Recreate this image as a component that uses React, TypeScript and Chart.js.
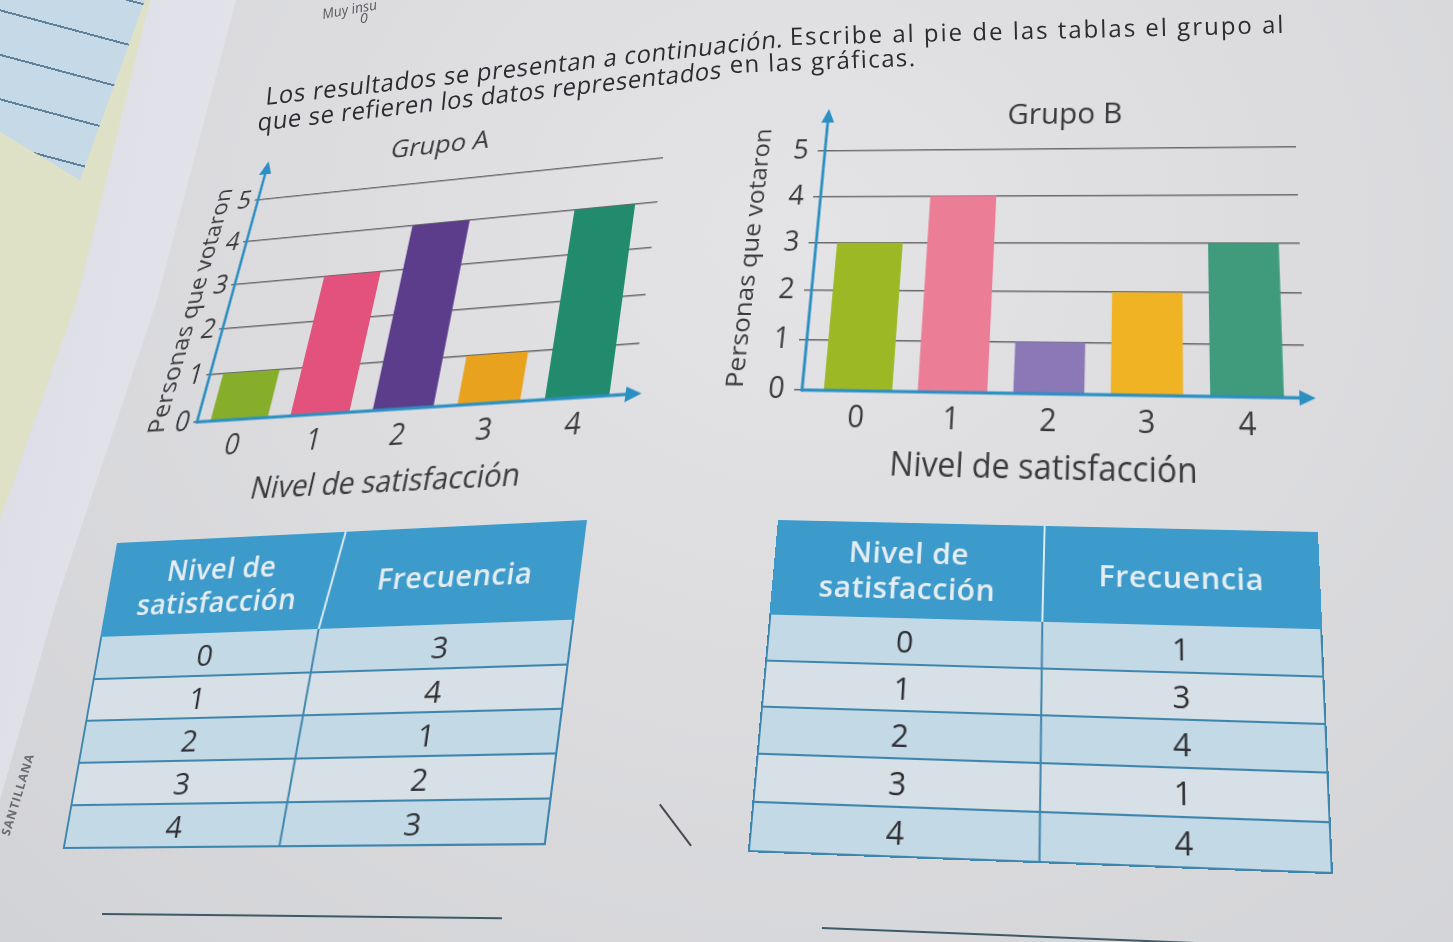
import React, { useEffect, useRef } from "react";
import { Chart, registerables } from "chart.js";

Chart.register(...registerables);

// ---------- data ----------
const satisfactionLevels = [0, 1, 2, 3, 4];
const yTickValues = [0, 1, 2, 3, 4, 5];
const groupAVotes = [1, 3, 4, 1, 4];
const groupBVotes = [3, 4, 1, 2, 3];
const groupAColors = ["#86ae2b", "#e2527c", "#5b3d8c", "#e8a21d", "#228b6d"];
const groupBColors = ["#9cb925", "#ec7d96", "#8b79b7", "#efb323", "#409b7c"];
const tableOneFrequencies = [3, 4, 1, 2, 3];
const tableTwoFrequencies = [1, 3, 4, 1, 4];
const instructionParts = [
  "Los resultados se presentan a continuación.",
  "Escribe al pie de las tablas el grupo al",
  "que se refieren los datos representados",
  "en las gráficas.",
];
const yAxisTitle = "Personas que votaron";
const xAxisTitle = "Nivel de satisfacción";

const FONT = "'Open Sans', 'Noto Sans', sans-serif";
const AXIS_BLUE = "#2b8fc2";
const TEXT = "#3a3a3c";

// ---------- projective transform helper ----------
function solveLinear(A: number[][], b: number[]): number[] {
  const n = b.length;
  const M = A.map((row, i) => [...row, b[i]]);
  for (let c = 0; c < n; c++) {
    let p = c;
    for (let r = c + 1; r < n; r++) if (Math.abs(M[r][c]) > Math.abs(M[p][c])) p = r;
    [M[c], M[p]] = [M[p], M[c]];
    for (let r = 0; r < n; r++) {
      if (r === c) continue;
      const f = M[r][c] / M[c][c];
      for (let k = c; k <= n; k++) M[r][k] -= f * M[c][k];
    }
  }
  return M.map((row, i) => row[n] / row[i]);
}

function homography(src: number[][], dst: number[][]): string {
  const A: number[][] = [];
  const B: number[] = [];
  for (let i = 0; i < 4; i++) {
    const [x, y] = src[i];
    const [X, Y] = dst[i];
    A.push([x, y, 1, 0, 0, 0, -x * X, -y * X]);
    B.push(X);
    A.push([0, 0, 0, x, y, 1, -x * Y, -y * Y]);
    B.push(Y);
  }
  const [a, b, c, d, e, f, g, h] = solveLinear(A, B);
  return `matrix3d(${a},${d},0,${g},${b},${e},0,${h},0,0,1,0,${c},${f},0,1)`;
}

// ---------- plugin: axis arrows + titles ----------
const decorPlugin = {
  id: "decor",
  afterDatasetsDraw(chart: any, _args: any, o: any) {
    const { ctx, chartArea, scales } = chart;
    const x0 = chartArea.left;
    const y0 = scales.y.getPixelForValue(0);
    ctx.save();
    ctx.strokeStyle = AXIS_BLUE;
    ctx.fillStyle = AXIS_BLUE;
    ctx.lineWidth = o.axisWidth;
    ctx.lineCap = "round";
    const xe = x0 + o.xArrow;
    ctx.beginPath();
    ctx.moveTo(x0, y0);
    ctx.lineTo(xe - 10, y0);
    ctx.stroke();
    ctx.beginPath();
    ctx.moveTo(xe, y0);
    ctx.lineTo(xe - 15, y0 - 7);
    ctx.lineTo(xe - 15, y0 + 7);
    ctx.closePath();
    ctx.fill();
    const ye = y0 - o.yArrow;
    ctx.beginPath();
    ctx.moveTo(x0, y0);
    ctx.lineTo(x0, ye + 10);
    ctx.stroke();
    ctx.beginPath();
    ctx.moveTo(x0, ye);
    ctx.lineTo(x0 - 7, ye + 15);
    ctx.lineTo(x0 + 7, ye + 15);
    ctx.closePath();
    ctx.fill();
    ctx.fillStyle = TEXT;
    ctx.textAlign = "center";
    ctx.textBaseline = "middle";
    ctx.font = `${o.titleSize}px ${FONT}`;
    ctx.fillText(o.title, x0 + o.titleDx, y0 + o.titleDy);
    ctx.font = `${o.xTitleSize}px ${FONT}`;
    ctx.fillText(o.xTitle, x0 + o.xTitleDx, y0 + o.xTitleDy);
    ctx.translate(x0 + o.yTitleDx, y0 + o.yTitleDy);
    ctx.rotate(-Math.PI / 2);
    ctx.font = `${o.yTitleSize}px ${FONT}`;
    ctx.fillText(o.yTitle, 0, 0);
    ctx.restore();
  },
};

type Geo = {
  width: number;
  height: number;
  yAxisW: number;
  xAxisH: number;
  padTop: number;
  padRight: number;
  corners: number[][]; // page positions of plot-area TL, TR, BR, BL
  xMin: number;
  xMax: number;
  barPct: number;
  tickSize: number;
  yTickLen: number;
  yTickPad: number;
  xTickPad: number;
  gridColor: string;
  decor: any;
};

function BarChart({ votes, colors, title, geo }: { votes: number[]; colors: string[]; title: string; geo: Geo }) {
  const ref = useRef<HTMLCanvasElement>(null);
  useEffect(() => {
    const g = geo;
    const chart = new Chart(ref.current as HTMLCanvasElement, {
      type: "bar",
      data: {
        datasets: [
          {
            data: satisfactionLevels.map((l, i) => ({ x: l, y: votes[i] })),
            backgroundColor: colors,
            borderWidth: 0,
            barPercentage: g.barPct,
            categoryPercentage: 1,
          } as any,
        ],
      },
      options: {
        responsive: false,
        animation: false,
        devicePixelRatio: 1,
        layout: { padding: { top: g.padTop, right: g.padRight, left: 0, bottom: 0 } },
        plugins: {
          legend: { display: false },
          tooltip: { enabled: false },
          title: { display: false },
          decor: { ...g.decor, title, xTitle: xAxisTitle, yTitle: yAxisTitle },
        } as any,
        scales: {
          x: {
            type: "linear",
            offset: false,
            min: g.xMin,
            max: g.xMax,
            afterBuildTicks: (s: any) => {
              s.ticks = satisfactionLevels.map((v) => ({ value: v }));
            },
            afterFit: (s: any) => {
              s.height = g.xAxisH;
            },
            ticks: {
              font: { family: FONT, size: g.tickSize },
              color: TEXT,
              padding: g.xTickPad,
              autoSkip: false,
              maxRotation: 0,
              callback: (v: any) => String(v),
            },
            grid: { display: false, drawTicks: false },
            border: { display: false },
          },
          y: {
            type: "linear",
            min: 0,
            max: 5,
            afterBuildTicks: (s: any) => {
              s.ticks = yTickValues.map((v) => ({ value: v }));
            },
            afterFit: (s: any) => {
              s.width = g.yAxisW;
            },
            ticks: {
              font: { family: FONT, size: g.tickSize },
              color: TEXT,
              padding: g.yTickPad,
              callback: (v: any) => String(v),
            },
            grid: { color: g.gridColor, lineWidth: 1.5, tickLength: g.yTickLen, drawTicks: true },
            border: { display: false },
          },
        } as any,
      },
      plugins: [decorPlugin as any],
    });
    return () => chart.destroy();
  }, []);
  const L = geo.yAxisW;
  const R = geo.width - geo.padRight;
  const T = geo.padTop;
  const Bm = geo.height - geo.xAxisH;
  const m = homography(
    [
      [L, T],
      [R, T],
      [R, Bm],
      [L, Bm],
    ],
    geo.corners
  );
  return (
    <div
      style={{
        position: "absolute",
        left: 0,
        top: 0,
        width: geo.width,
        height: geo.height,
        transform: m,
        transformOrigin: "0 0",
      }}
    >
      <canvas ref={ref} width={geo.width} height={geo.height} style={{ display: "block" }} />
    </div>
  );
}

const geoA: Geo = {
  width: 556,
  height: 382,
  yAxisW: 80,
  xAxisH: 90,
  padTop: 62,
  padRight: 40,
  corners: [
    [258, 200],
    [663, 158],
    [633, 394],
    [197, 422],
  ],
  xMin: -0.53,
  xMax: 4.62,
  barPct: 0.72,
  tickSize: 27,
  yTickLen: 4,
  yTickPad: 4,
  xTickPad: 9,
  gridColor: "#6a6a6e",
  decor: {
    axisWidth: 3,
    xArrow: 444,
    yArrow: 274,
    titleDx: 195,
    titleDy: -270,
    titleSize: 28,
    xTitleDx: 209,
    xTitleDy: 67,
    xTitleSize: 28,
    yTitleDx: -41,
    yTitleDy: -119,
    yTitleSize: 25,
  },
};

const geoB: Geo = {
  width: 620,
  height: 392,
  yAxisW: 92,
  xAxisH: 92,
  padTop: 58,
  padRight: 40,
  corners: [
    [825, 151],
    [1296, 147],
    [1306, 398],
    [802, 390],
  ],
  xMin: -0.6,
  xMax: 4.58,
  barPct: 0.73,
  tickSize: 29,
  yTickLen: 8,
  yTickPad: 10,
  xTickPad: 8,
  gridColor: "#6a6a6e",
  decor: {
    axisWidth: 3,
    xArrow: 497,
    yArrow: 288,
    titleDx: 253,
    titleDy: -278,
    titleSize: 31,
    xTitleDx: 240,
    xTitleDy: 68,
    xTitleSize: 31,
    yTitleDx: -68,
    yTitleDy: -134,
    yTitleSize: 26,
  },
};

// ---------- tables ----------
function FreqTable(props: {
  width: number;
  headerH: number;
  rowH: number;
  splitTop: number;
  splitMid: number;
  splitBottom: number;
  corners: number[][];
  headSize: number;
  valSize: number;
  freqs: number[];
}) {
  const { width, headerH, rowH, splitTop, splitMid, splitBottom, corners, headSize, valSize, freqs } = props;
  const height = headerH + rowH * 5;
  const line = "2px solid #3f86ad";
  const hx = ((splitTop + splitMid) / 2) * width;
  const m = homography(
    [
      [0, 0],
      [width, 0],
      [width, height],
      [0, height],
    ],
    corners
  );
  return (
    <div
      style={{
        position: "absolute",
        left: 0,
        top: 0,
        width,
        height,
        transform: m,
        transformOrigin: "0 0",
        fontFamily: FONT,
        boxSizing: "border-box",
      }}
    >
      <div style={{ display: "flex", height: headerH, background: "#3d9bcc", color: "#e6edf1", fontWeight: 600, letterSpacing: 0.5 }}>
        <div
          style={{
            width: hx,
            display: "flex",
            alignItems: "center",
            justifyContent: "center",
            textAlign: "center",
            fontSize: headSize,
            lineHeight: 1.2,
          }}
        >
          Nivel de
          <br />
          satisfacción
        </div>
        <div style={{ flex: 1, display: "flex", alignItems: "center", justifyContent: "center", fontSize: headSize }}>
          Frecuencia
        </div>
      </div>
      <div style={{ borderLeft: line, borderRight: line, borderBottom: line }}>
        {satisfactionLevels.map((lv, i) => {
          const f = splitMid + ((splitBottom - splitMid) * (i + 0.5)) / 5;
          return (
            <div
              key={lv}
              style={{
                display: "flex",
                height: rowH,
                borderTop: i === 0 ? "none" : line,
                background: i % 2 === 0 ? "#c4d9e6" : "#d7e0e6",
                color: "#2f3034",
                fontSize: valSize,
                boxSizing: "border-box",
              }}
            >
              <div style={{ width: f * width - 2, display: "flex", alignItems: "center", justifyContent: "center" }}>{lv}</div>
              <div style={{ flex: 1, display: "flex", alignItems: "center", justifyContent: "center" }}>{freqs[i]}</div>
            </div>
          );
        })}
      </div>
      <svg
        width={width}
        height={height}
        style={{ position: "absolute", left: 0, top: 0, overflow: "visible", pointerEvents: "none" }}
      >
        <line x1={splitTop * width} y1={0} x2={splitMid * width} y2={headerH} stroke="#dfeaf1" strokeWidth={2} />
        <line x1={splitMid * width} y1={headerH} x2={splitBottom * width} y2={height} stroke="#3f86ad" strokeWidth={2} />
      </svg>
    </div>
  );
}

function TextPiece(props: { text: string; x: number; y: number; angle: number; skew: number; size: number; spacing: number }) {
  const { text, x, y, angle, skew, size, spacing } = props;
  const base = size * 0.89;
  return (
    <div
      style={{
        position: "absolute",
        left: x,
        top: y - base,
        fontSize: size,
        lineHeight: `${size}px`,
        letterSpacing: spacing,
        color: "#2c2c30",
        whiteSpace: "nowrap",
        transform: `rotate(${angle}deg) skewX(${skew}deg)`,
        transformOrigin: `0 ${base}px`,
      }}
    >
      {text}
    </div>
  );
}

export default function App() {
  return (
    <div
      style={{
        position: "fixed",
        left: 0,
        top: 0,
        width: 1453,
        height: 942,
        overflow: "hidden",
        fontFamily: FONT,
        background: "radial-gradient(ellipse at 55% 25%, #e4e4e7 0%, #dcdcdf 45%, #d2d3d6 100%)",
      }}
    >
      <div
        style={{
          position: "absolute",
          inset: 0,
          background: "#dfe1c7",
          clipPath: "polygon(0 0, 152px 0, 77px 300px, 0 520px)",
        }}
      />
      <div
        style={{
          position: "absolute",
          inset: 0,
          background: "linear-gradient(100deg, #dcdce6 0%, #ececf2 40%, #e3e3ea 100%)",
          clipPath: "polygon(150px 0, 236px 0, 157px 300px, 57px 600px, 0 800px, 0 520px, 77px 300px)",
        }}
      />
      <div
        style={{
          position: "absolute",
          inset: 0,
          background: "repeating-linear-gradient(195deg, #c6d9e6 0px, #c6d9e6 41px, #5f8199 41px, #5f8199 43px)",
          clipPath: "polygon(0 0, 145px 0, 80px 180px, 0 132px)",
        }}
      />

      <div
        style={{
          position: "absolute",
          left: 322,
          top: 4,
          fontSize: 14,
          fontStyle: "italic",
          color: "#5a5a60",
          transform: "rotate(-10deg)",
          transformOrigin: "0 50%",
        }}
      >
        Muy insu
      </div>
      <div style={{ position: "absolute", left: 360, top: 8, fontSize: 14, fontStyle: "italic", color: "#5a5a60" }}>0</div>

      <TextPiece text={instructionParts[0]} x={265} y={105} angle={-6.4} skew={-12} size={24} spacing={0.7} />
      <TextPiece text={instructionParts[1]} x={790} y={45} angle={-1.4} skew={0} size={24} spacing={2} />
      <TextPiece text={instructionParts[2]} x={257} y={131} angle={-6.5} skew={-12} size={24} spacing={0.55} />
      <TextPiece text={instructionParts[3]} x={730} y={73} angle={-2.2} skew={0} size={24} spacing={1.4} />

      <BarChart votes={groupAVotes} colors={groupAColors} title="Grupo A" geo={geoA} />
      <BarChart votes={groupBVotes} colors={groupBColors} title="Grupo B" geo={geoB} />

      <FreqTable
        width={475}
        headerH={97}
        rowH={42}
        splitTop={0.502}
        splitMid={0.476}
        splitBottom={0.464}
        corners={[
          [117, 543],
          [587, 520],
          [546, 843],
          [63, 847],
        ]}
        headSize={28}
        valSize={29}
        freqs={tableOneFrequencies}
      />
      <FreqTable
        width={560}
        headerH={100}
        rowH={46}
        splitTop={0.5}
        splitMid={0.5}
        splitBottom={0.505}
        corners={[
          [778, 520],
          [1318, 532],
          [1333, 872],
          [748, 850],
        ]}
        headSize={31}
        valSize={31}
        freqs={tableTwoFrequencies}
      />

      <div
        style={{
          position: "absolute",
          left: -70,
          top: 745,
          width: 100,
          fontSize: 12,
          fontWeight: 700,
          letterSpacing: 1,
          color: "#6a6a70",
          whiteSpace: "nowrap",
          textAlign: "right",
          transform: "rotate(-73deg)",
          transformOrigin: "100% 50%",
        }}
      >
        SANTILLANA
      </div>

      <div
        style={{
          position: "absolute",
          left: 659,
          top: 805,
          width: 2,
          height: 52,
          background: "#4a4a52",
          transform: "rotate(-37deg)",
          transformOrigin: "0 0",
        }}
      />

      <div
        style={{
          position: "absolute",
          left: 102,
          top: 913,
          width: 400,
          height: 2,
          background: "#3e5a66",
          transform: "rotate(0.6deg)",
          transformOrigin: "0 0",
        }}
      />
      <div
        style={{
          position: "absolute",
          left: 822,
          top: 927,
          width: 380,
          height: 2,
          background: "#3e5a66",
          transform: "rotate(2.3deg)",
          transformOrigin: "0 0",
        }}
      />
    </div>
  );
}
